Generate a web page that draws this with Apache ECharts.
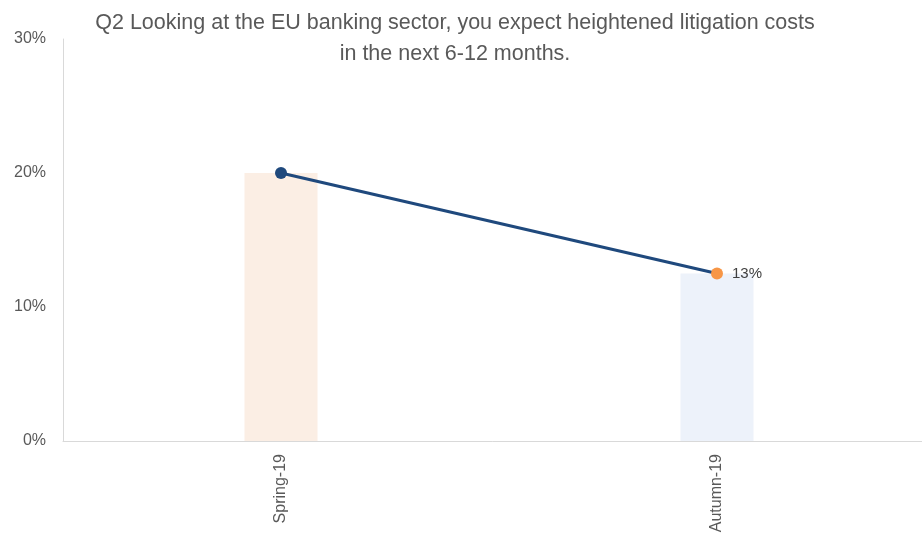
<!DOCTYPE html>
<html>
<head>
<meta charset="utf-8">
<script src="https://cdn.jsdelivr.net/npm/echarts@6/dist/echarts.min.js"></script>
<style>html,body{margin:0;padding:0;background:#fff}#c{width:922px;height:544px}</style>
</head>
<body>
<div id="c"></div>
<script>
const titleText = 'Q2 Looking at the EU banking sector, you expect heightened litigation costs\nin the next 6-12 months.';
const categories = ['Spring-19', 'Autumn-19'];
const barValues = [20, 12.5];
const lineValues = [20, 12.5];
const barColors = ['#FBEEE4', '#EDF2FA'];
const markerColors = ['#1F497D', '#F79646'];
const yTicks = [0, 10, 20, 30];

const chart = echarts.init(document.getElementById('c'));
chart.setOption({
  animation: false,
  backgroundColor: '#fff',
  title: {
    text: titleText,
    left: 450, top: 3, textAlign: 'center',
    textStyle: { fontFamily: 'Liberation Sans', fontSize: 21.5, fontWeight: 'normal', color: '#595959', lineHeight: 31 }
  },
  grid: { left: 63, top: 39, width: 872, height: 402, outerBoundsMode: 'none', containLabel: false },
  xAxis: {
    type: 'category', data: categories,
    axisLine: { lineStyle: { color: '#D9D9D9', width: 1 } },
    axisTick: { show: false },
    axisLabel: { rotate: 90, color: '#595959', fontFamily: 'Liberation Sans', fontSize: 16, margin: 13 }
  },
  yAxis: {
    type: 'value', min: yTicks[0], max: yTicks[yTicks.length - 1], interval: 10,
    axisLine: { show: true, lineStyle: { color: '#D9D9D9' } },
    axisTick: { show: false },
    splitLine: { show: false },
    axisLabel: { formatter: '{value}%', color: '#595959', fontFamily: 'Liberation Sans', fontSize: 16, margin: 17 }
  },
  series: [
    {
      type: 'bar', barWidth: 73,
      data: barValues.map((v, i) => ({ value: v, itemStyle: { color: barColors[i] } }))
    },
    {
      type: 'line', symbol: 'circle', symbolSize: 12,
      lineStyle: { color: '#1F497D', width: 3 },
      data: lineValues.map((v, i) => ({
        value: v,
        itemStyle: { color: markerColors[i] },
        label: i === lineValues.length - 1 ? {
          show: true, position: 'right', distance: 9,
          formatter: p => Math.round(p.value) + '%',
          color: '#404040', fontFamily: 'Liberation Sans', fontSize: 15
        } : { show: false }
      })),
      z: 5
    }
  ]
});
</script>
</body>
</html>
